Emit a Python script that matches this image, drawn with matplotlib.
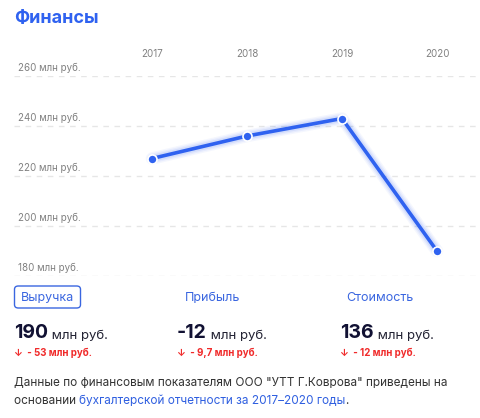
import matplotlib
matplotlib.use("Agg")
import matplotlib.pyplot as plt
from matplotlib.patches import FancyBboxPatch

plt.rcParams['font.family'] = ['Inter', 'DejaVu Sans']

# data
years = [2017, 2018, 2019, 2020]
revenue = [227, 236, 243, 190]
y_ticks = [180, 200, 220, 240, 260]
y_tick_labels = [f"{v} млн руб." for v in y_ticks]

cards = ["Выручка", "Прибыль", "Стоимость"]
card_values = ["190", "-12", "136"]
card_deltas = ["- 53 млн руб.", "- 9,7 млн руб.", "- 12 млн руб."]

W, H = 481, 418
BLUE = "#2f62f0"
fig = plt.figure(figsize=(W / 100, H / 100), dpi=100)


def fx(px):
    return px / W


def fy(py):
    return 1 - py / H


# chart area: x from 14 to 481 px, y from 76 (260) to 276 (180)
ax = fig.add_axes([fx(14), fy(276), fx(481 - 14), (276 - 76) / H])
px_per_year = 95
ax.set_xlim(2017 - (152 - 14) / px_per_year, 2020 + (481 - 437) / px_per_year)
ax.set_ylim(180, 260)
for s in ax.spines.values():
    s.set_visible(False)
ax.set_xticks([])
ax.set_yticks([])
ax.patch.set_alpha(0)

for v, lab in zip(y_ticks, y_tick_labels):
    ax.axhline(v, color="#e6e6e6", lw=1.0, dashes=(4, 4), zorder=0)
    ax.annotate(lab, (0, v), xycoords=("axes fraction", "data"), xytext=(3, 2),
                textcoords="offset points", fontsize=7, color="#808080",
                va="bottom", ha="left")

for yr in years:
    ax.annotate(str(yr), (yr, 1), xycoords=("data", "axes fraction"),
                xytext=(0, 16), textcoords="offset points", fontsize=7,
                color="#808080", ha="center", va="center")

# glow under the line
for lw, a in [(9, 0.05), (7, 0.07), (5, 0.1)]:
    ax.plot(years, revenue, color=BLUE, lw=lw, alpha=a, solid_capstyle="round",
            zorder=2)
ax.plot(years, revenue, color=BLUE, lw=2.6, zorder=3, solid_capstyle="round")
ax.plot(years, revenue, "o", ms=6.5, mfc=BLUE, mec="white", mew=1.2, zorder=4)

# title
fig.text(fx(14), fy(18), "Финансы", fontsize=13, fontweight="bold", color=BLUE,
         ha="left", va="center")

# tabs and cards
box = FancyBboxPatch((fx(14.5), fy(308)), fx(66), (308 - 286) / H,
                     boxstyle="round,pad=0,rounding_size=0.008",
                     transform=fig.transFigure, fc="white", ec="#3a66e0", lw=1.0)
fig.add_artist(box)
tab_x = [48, 213, 380]
card_x = [14, 177, 340]
for i, name in enumerate(cards):
    fig.text(fx(tab_x[i]), fy(298), name, fontsize=9, color="#3a66e0",
             ha="center", va="center")
    t = fig.text(fx(card_x[i]), fy(338), card_values[i], fontsize=14,
                 fontweight="bold", color="#111133", ha="left", va="baseline")
    ax.annotate(" млн руб.", xy=(1, 0), xycoords=t, fontsize=9.5,
                color="#222233", ha="left", va="bottom",
                annotation_clip=False)
    fig.text(fx(card_x[i]), fy(353), "↓  " + card_deltas[i], fontsize=7,
             fontweight="bold", color="#f02a2a", ha="left", va="center")

# footer
fig.text(fx(14), fy(383), 'Данные по финансовым показателям ООО "УТТ Г.Коврова" приведены на',
         fontsize=8.5, color="#333333", ha="left", va="center")
t1 = fig.text(fx(14), fy(401), "основании ", fontsize=8.5, color="#333333",
              ha="left", va="center")
t2 = ax.annotate("бухгалтерской отчетности за 2017–2020 годы", xy=(1, 0),
                 xycoords=t1, fontsize=8.5, color="#2f5fe0", ha="left",
                 va="bottom", annotation_clip=False)
ax.annotate(".", xy=(1, 0), xycoords=t2, fontsize=8.5, color="#333333",
            ha="left", va="bottom", annotation_clip=False)

fig.savefig("out.png", dpi=100)
